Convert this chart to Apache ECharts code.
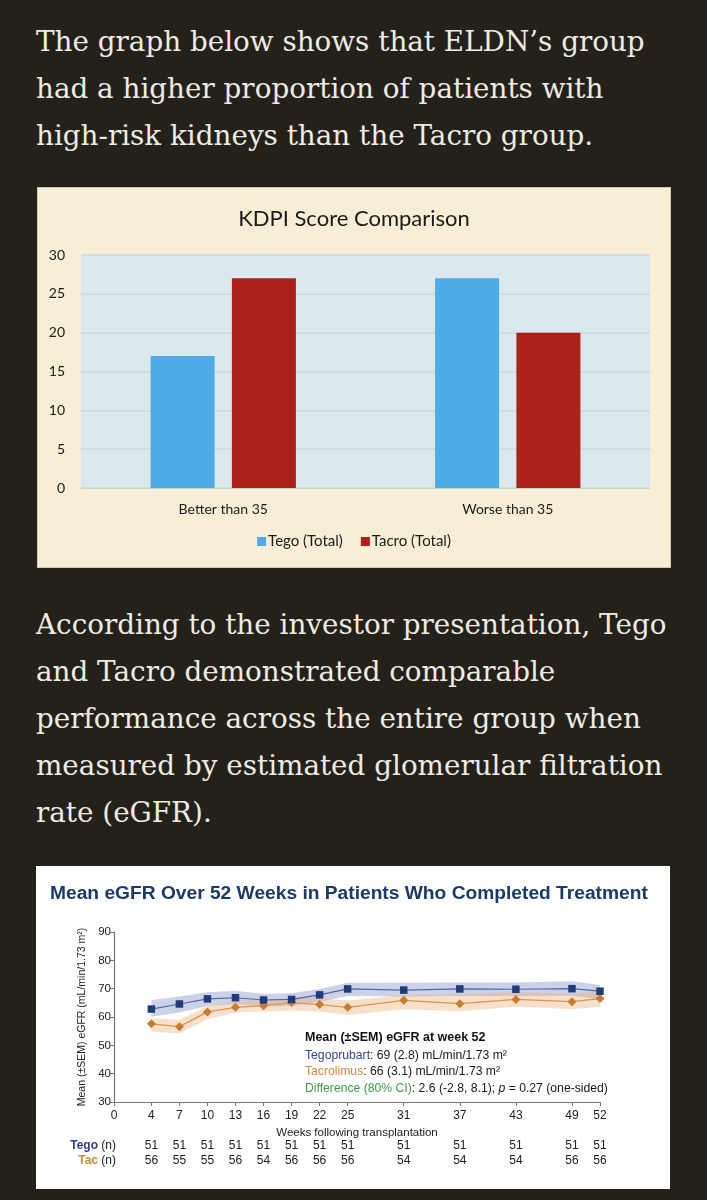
<!DOCTYPE html>
<html>
<head>
<meta charset="utf-8">
<script src="https://cdn.jsdelivr.net/npm/echarts@6/dist/echarts.min.js"></script>
<style>
  html, body { margin: 0; padding: 0; }
  body { width: 707px; height: 1200px; background: #24211b; position: relative; overflow: hidden; }
  .para { position: absolute; left: 36px; color: #eeebe3; font-family: "DejaVu Serif", serif; font-size: 27.8px; line-height: 47px; white-space: nowrap; }
  #kdpi { position: absolute; left: 37px; top: 187px; width: 632px; height: 379px; background: #f8eed6; border: 1px solid #cfc7b2; }
  #egfr { position: absolute; left: 36px; top: 866px; width: 634px; height: 323px; background: #ffffff; }
</style>
</head>
<body>
<div class="para" style="top:18px">The graph below shows that ELDN’s group<br>had a higher proportion of patients with<br>high-risk kidneys than the Tacro group.</div>
<div id="kdpi"></div>
<div class="para" style="top:601px">According to the investor presentation, Tego<br>and Tacro demonstrated comparable<br>performance across the entire group when<br>measured by estimated glomerular filtration<br>rate (eGFR).</div>
<div id="egfr"></div>
<script>
// KDPI bar chart
const kdpiCategories = ['Better than 35', 'Worse than 35'];
const tegoTotal = [17, 27];
const tacroTotal = [27, 20];

// eGFR line chart
const weeks = [4, 7, 10, 13, 16, 19, 22, 25, 31, 37, 43, 49, 52];
const weekTicks = [0, 4, 7, 10, 13, 16, 19, 22, 25, 31, 37, 43, 49, 52];
const tegoMean = [62.8, 64.6, 66.4, 66.8, 66.0, 66.2, 67.8, 69.9, 69.5, 69.9, 69.8, 70.0, 69.1];
const tegoUpper = [66.0, 67.2, 68.7, 69.3, 68.1, 68.4, 69.9, 72.1, 72.1, 72.2, 72.2, 72.6, 71.3];
const tegoLower = [60.1, 61.6, 63.9, 64.6, 63.7, 63.9, 65.4, 67.4, 67.2, 67.4, 67.4, 67.5, 66.3];
const tacMean = [57.6, 56.6, 61.8, 63.4, 64.0, 65.1, 64.4, 63.4, 65.9, 64.7, 66.2, 65.4, 66.5];
const tacUpper = [59.6, 58.9, 63.9, 65.4, 66.0, 66.6, 66.6, 65.8, 67.8, 68.0, 68.8, 68.2, 69.3];
const tacLower = [54.9, 54.2, 59.2, 61.6, 61.9, 62.3, 61.9, 60.7, 62.7, 62.0, 63.6, 62.8, 63.5];
const tegoN = [51, 51, 51, 51, 51, 51, 51, 51, 51, 51, 51, 51, 51];
const tacN = [56, 55, 55, 56, 54, 56, 56, 56, 54, 54, 54, 56, 56];

const sans = '"Liberation Sans", Arial, sans-serif';
const officeFont = 'Lato, "Open Sans", sans-serif';

let kdpiChart = echarts.init(document.getElementById('kdpi'));
kdpiChart.setOption({
    animation: false,
    textStyle: { fontFamily: officeFont },
    title: {
        text: 'KDPI Score Comparison',
        left: 'center',
        top: 15,
        textStyle: { fontSize: 22, fontWeight: 'normal', color: '#1a1a1a', fontFamily: officeFont }
    },
    legend: {
        bottom: 13,
        left: 'center',
        itemWidth: 9,
        itemHeight: 9,
        itemGap: 18,
        icon: 'rect',
        textStyle: { fontSize: 15, color: '#1a1a1a', padding: [0, 0, 0, -3] },
        data: ['Tego (Total)', 'Tacro (Total)']
    },
    grid: {
        left: 43, right: 20, top: 67, bottom: 79,
        show: true, backgroundColor: '#dbe9ef', borderWidth: 0
    },
    xAxis: {
        type: 'category',
        data: kdpiCategories,
        axisLine: { lineStyle: { color: '#c9d3d9' } },
        axisTick: { show: false },
        axisLabel: { fontSize: 14, color: '#1a1a1a', margin: 14 }
    },
    yAxis: {
        type: 'value',
        min: 0, max: 30, interval: 5,
        axisLine: { show: false },
        axisTick: { show: false },
        axisLabel: { fontSize: 14, color: '#1a1a1a', margin: 16 },
        splitLine: { lineStyle: { color: '#cbd8df', width: 1.5 } }
    },
    series: [
        {
            name: 'Tego (Total)', type: 'bar', data: tegoTotal,
            barWidth: '22.5%', barGap: '27%',
            itemStyle: { color: '#4eabe7' }
        },
        {
            name: 'Tacro (Total)', type: 'bar', data: tacroTotal,
            barWidth: '22.5%', barGap: '27%',
            itemStyle: { color: '#ad2218' }
        }
    ]
});

let bandRenderer = function(upper, lower, color) {
    return function(params, api) {
        let points = [];
        weeks.forEach(function(w, i) {
            points.push(api.coord([w, upper[i]]));
        });
        for (let i = weeks.length - 1; i >= 0; i--) {
            points.push(api.coord([weeks[i], lower[i]]));
        }
        return {
            type: 'polygon',
            shape: { points: points },
            style: { fill: color }
        };
    };
};

let countAxis = function(name, counts, offset) {
    return {
        type: 'value',
        position: 'bottom',
        offset: offset,
        min: 0, max: 52,
        name: name,
        nameLocation: 'start',
        nameGap: -2,
        nameTextStyle: {
            fontSize: 12, color: '#222', verticalAlign: 'top', padding: [8, 0, 0, 0], fontFamily: sans,
            rich: {
                b: { fontSize: 12, color: '#2f3f86', fontWeight: 'bold', fontFamily: sans },
                o: { fontSize: 12, color: '#cf8a3c', fontWeight: 'bold', fontFamily: sans }
            }
        },
        axisLine: { show: false },
        axisTick: { show: false },
        splitLine: { show: false },
        axisLabel: {
            fontSize: 12, color: '#222', margin: 8, fontFamily: sans,
            customValues: weeks,
            formatter: function(v) {
                let i = weeks.indexOf(v);
                return i >= 0 ? String(counts[i]) : '';
            }
        }
    };
};

let egfrChart = echarts.init(document.getElementById('egfr'));
egfrChart.setOption({
    animation: false,
    textStyle: { fontFamily: sans },
    title: [
        {
            text: 'Mean eGFR Over 52 Weeks in Patients Who Completed Treatment',
            left: 9, top: 13,
            textStyle: { fontSize: 19.2, fontWeight: 'bold', color: '#1b3a6b', fontFamily: sans }
        },
        {
            text: '{h|Mean (±SEM) eGFR at week 52}\n{t|Tegoprubart}: 69 (2.8) mL/min/1.73 m²\n{c|Tacrolimus}: 66 (3.1) mL/min/1.73 m²\n{d|Difference (80% CI)}: 2.6 (-2.8, 8.1); {i|p} = 0.27 (one-sided)',
            left: 264, top: 158,
            textStyle: {
                fontSize: 12.2, fontWeight: 'normal', color: '#1a1a1a', lineHeight: 16.5, fontFamily: sans,
                rich: {
                    h: { fontSize: 12.5, fontWeight: 'bold', color: '#111', lineHeight: 18, fontFamily: sans },
                    t: { fontSize: 12.2, color: '#34458c', lineHeight: 16.5, fontFamily: sans },
                    c: { fontSize: 12.2, color: '#d48a3c', lineHeight: 16.5, fontFamily: sans },
                    d: { fontSize: 12.2, color: '#3f9a4c', lineHeight: 16.5, fontFamily: sans },
                    i: { fontSize: 12.2, fontStyle: 'italic', lineHeight: 16.5, fontFamily: sans }
                }
            }
        }
    ],
    grid: { left: 78, right: 70, top: 66, bottom: 87 },
    xAxis: [
        {
            type: 'value',
            min: 0, max: 52,
            name: 'Weeks following transplantation',
            nameLocation: 'middle',
            nameGap: 21,
            nameTextStyle: { fontSize: 11.5, color: '#222' },
            axisLine: { lineStyle: { color: '#777', width: 1.2 } },
            axisTick: { length: 4, lineStyle: { color: '#777' }, customValues: weekTicks },
            axisLabel: { fontSize: 12, color: '#222', margin: 8, customValues: weekTicks },
            splitLine: { show: false }
        },
        countAxis('{b|Tego} (n)', tegoN, 30),
        countAxis('{o|Tac} (n)', tacN, 45)
    ],
    yAxis: {
        type: 'value',
        min: 30, max: 90, interval: 10,
        name: 'Mean (±SEM) eGFR (mL/min/1.73 m²)',
        nameLocation: 'middle',
        nameGap: 20,
        nameRotate: 90,
        nameTextStyle: { fontSize: 10.5, color: '#222' },
        axisLine: { show: true, lineStyle: { color: '#777', width: 1.2 } },
        axisTick: { show: true, length: 4, lineStyle: { color: '#777' } },
        axisLabel: { fontSize: 11.5, color: '#222', margin: 3 },
        splitLine: { show: false }
    },
    series: [
        {
            type: 'custom',
            renderItem: bandRenderer(tegoUpper, tegoLower, 'rgba(112,130,190,0.36)'),
            data: [[weeks[0], tegoUpper[0]]],
            silent: true,
            z: 1
        },
        {
            type: 'custom',
            renderItem: bandRenderer(tacUpper, tacLower, 'rgba(232,170,110,0.36)'),
            data: [[weeks[0], tacUpper[0]]],
            silent: true,
            z: 1
        },
        {
            name: 'Tacrolimus',
            type: 'line',
            data: weeks.map(function(w, i) { return [w, tacMean[i]]; }),
            symbol: 'diamond',
            symbolSize: 9,
            lineStyle: { color: '#d99550', width: 1.2 },
            itemStyle: { color: '#c97c2e' },
            z: 3
        },
        {
            name: 'Tegoprubart',
            type: 'line',
            data: weeks.map(function(w, i) { return [w, tegoMean[i]]; }),
            symbol: 'rect',
            symbolSize: 7.5,
            lineStyle: { color: '#55659f', width: 1.2 },
            itemStyle: { color: '#233a7a' },
            z: 4
        }
    ]
});
</script>
</body>
</html>
